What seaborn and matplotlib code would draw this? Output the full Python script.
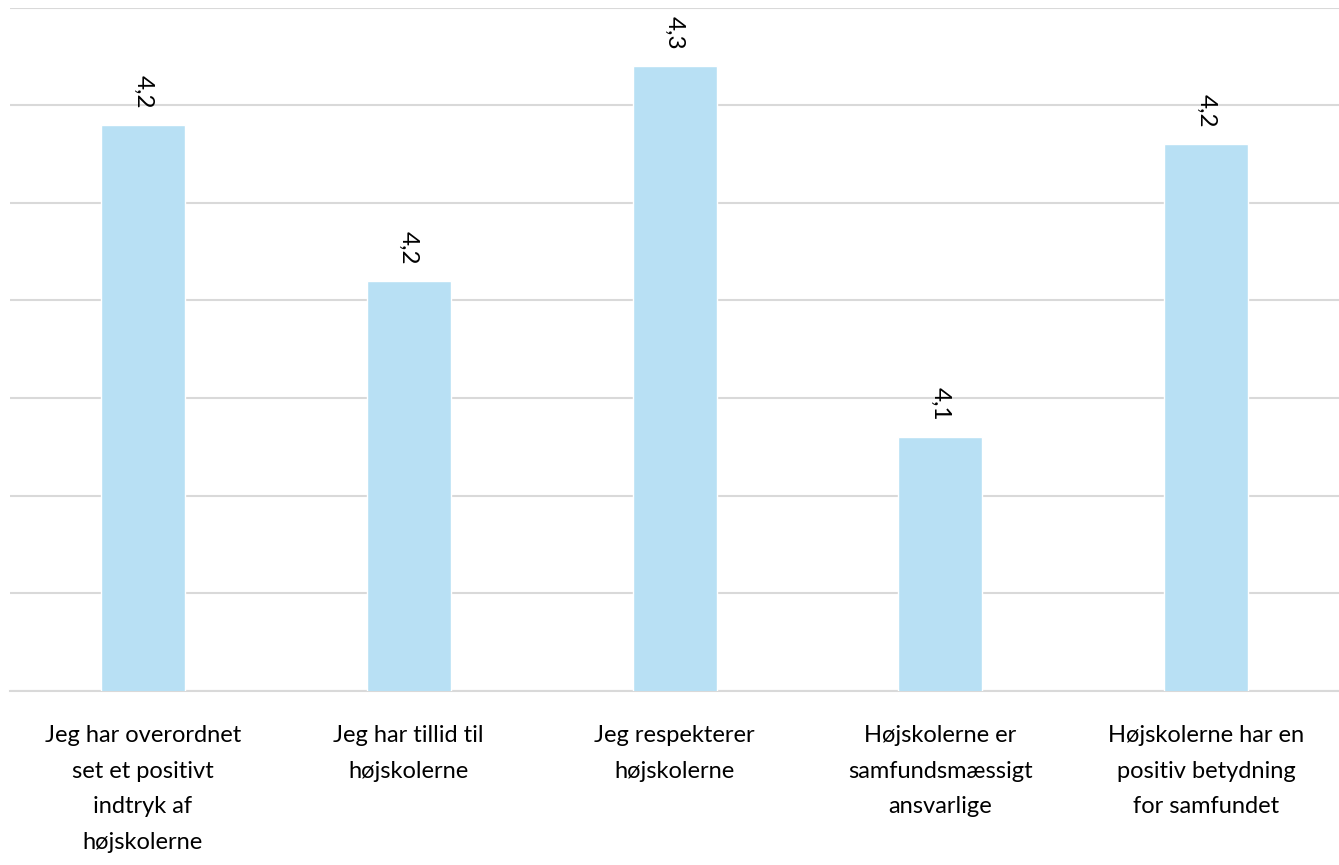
import matplotlib
matplotlib.use("Agg")
import matplotlib.pyplot as plt
import numpy as np
import pandas as pd
import seaborn as sns

categories = [
    "Jeg har overordnet\nset et positivt\nindtryk af\nhøjskolerne",
    "Jeg har tillid til\nhøjskolerne",
    "Jeg respekterer\nhøjskolerne",
    "Højskolerne er\nsamfundsmæssigt\nansvarlige",
    "Højskolerne har en\npositiv betydning\nfor samfundet",
]
scores = [4.24, 4.16, 4.27, 4.08, 4.23]
bar_color = "#B8E0F4"
grid_color = "#D9D9D9"

sns.set_theme(style="white")
plt.rcParams['font.family'] = ['Lato', 'DejaVu Sans']

df = pd.DataFrame({"kategori": categories, "score": scores})

fig = plt.figure(figsize=(13.39, 8.65), dpi=100)
ax = fig.add_axes([0.0075, 0.2015, 0.9925, 0.7895])

sns.barplot(data=df, x="kategori", y="score", color=bar_color, width=0.316,
            saturation=1, ax=ax, zorder=3)

ax.set_ylim(3.95, 4.30)
ax.set_yticks(np.arange(3.95, 4.301, 0.05))
ax.yaxis.grid(True, color=grid_color, linewidth=1.5, zorder=0)
ax.set_yticklabels([])
ax.tick_params(axis="y", length=0)
ax.tick_params(axis="x", length=0, pad=25, labelsize=17, labelcolor="#000000")
for lbl in ax.get_xticklabels():
    lbl.set_linespacing(1.85)
ax.set_xlabel("")
ax.set_ylabel("")
for side in ["top", "right", "left"]:
    ax.spines[side].set_visible(False)
ax.spines["bottom"].set_color(grid_color)
ax.spines["bottom"].set_linewidth(1.5)

labels = [f"{v:.1f}".replace(".", ",") for v in scores]
ax.bar_label(ax.containers[0], labels=labels, rotation=270, padding=12,
             fontsize=17.5, color="#000000")

fig.savefig("out.png", dpi=100)
